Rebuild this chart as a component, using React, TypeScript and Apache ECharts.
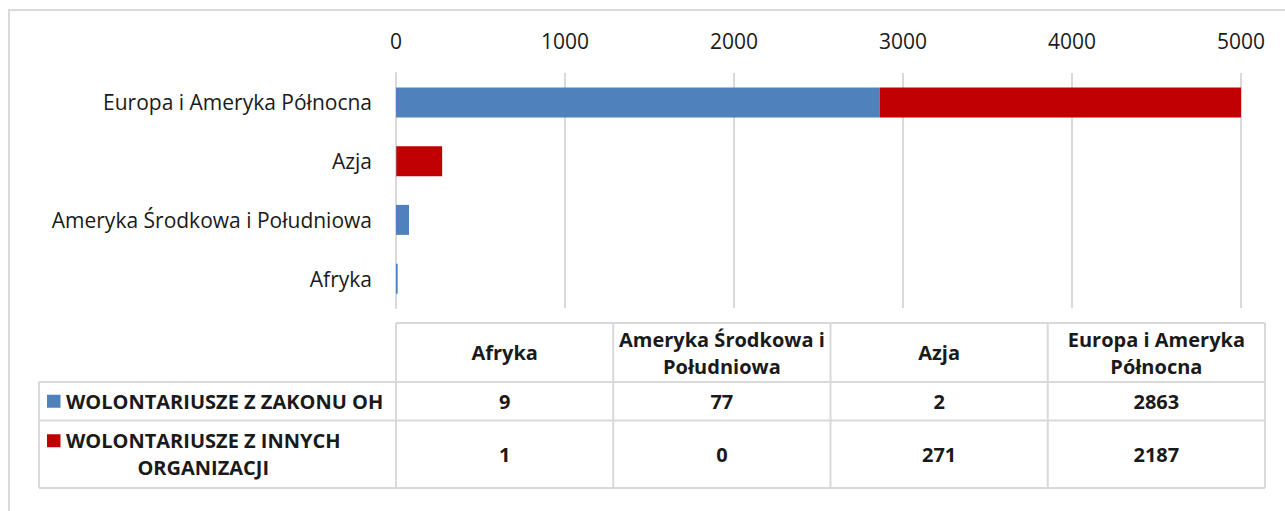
import React, { useEffect, useRef } from "react";
import * as echarts from "echarts";

const categories = [
  "Afryka",
  "Ameryka Środkowa i Południowa",
  "Azja",
  "Europa i Ameryka Północna",
];
const seriesNames = ["WOLONTARIUSZE Z ZAKONU OH", "WOLONTARIUSZE Z INNYCH ORGANIZACJI"];
const zakonValues = [9, 77, 2, 2863];
const innychValues = [1, 0, 271, 2187];
const seriesColors = ["#4F81BD", "#C00000"];
const axisMin = 0;
const axisMax = 5000;
const axisInterval = 1000;

const FONT = '"Open Sans", "Noto Sans", sans-serif';
const TEXT = "#1a1a1a";
const GRID_C = "#d9d9d9";

function wrap(s: string, maxChars: number): string[] {
  const words = s.split(" ");
  const lines: string[] = [];
  let cur = "";
  for (const w of words) {
    const next = cur ? cur + " " + w : w;
    if (next.length > maxChars && cur) {
      lines.push(cur);
      cur = w;
    } else cur = next;
  }
  if (cur) lines.push(cur);
  return lines;
}

function measure(text: string, font: string): number {
  const c = document.createElement("canvas").getContext("2d")!;
  c.font = font;
  return c.measureText(text).width;
}

export default function App() {
  const ref = useRef<HTMLDivElement>(null);
  useEffect(() => {
    if (!ref.current) return;
    const chart = echarts.init(ref.current, null, { renderer: "svg" });

    const tableLeft = 396;
    const tableRight = 1265;
    const legendLeft = 39;
    const colW = (tableRight - tableLeft) / categories.length;
    const yHeadTop = 323;
    const rowYs = [382, 420.5, 488];
    const boldFont = `bold 20px ${FONT}`;
    const lineStyle = { stroke: GRID_C, lineWidth: 2 };

    const elements: any[] = [];
    elements.push({
      type: "rect",
      shape: { x: 9, y: 10, width: 1300, height: 540 },
      style: { fill: "none", stroke: GRID_C, lineWidth: 2 },
      silent: true,
    });
    elements.push({ type: "line", shape: { x1: tableLeft, y1: yHeadTop, x2: tableRight, y2: yHeadTop }, style: lineStyle });
    rowYs.forEach((y) =>
      elements.push({ type: "line", shape: { x1: legendLeft, y1: y, x2: tableRight, y2: y }, style: lineStyle })
    );
    elements.push({ type: "line", shape: { x1: legendLeft, y1: rowYs[0], x2: legendLeft, y2: rowYs[2] }, style: lineStyle });
    for (let i = 0; i <= categories.length; i++) {
      const x = tableLeft + i * colW;
      elements.push({ type: "line", shape: { x1: x, y1: yHeadTop, x2: x, y2: rowYs[2] }, style: lineStyle });
    }
    categories.forEach((c, i) => {
      elements.push({
        type: "text",
        x: tableLeft + (i + 0.5) * colW,
        y: (yHeadTop + rowYs[0]) / 2,
        style: {
          text: wrap(c, 18).join("\n"),
          fontFamily: FONT,
          fontWeight: "bold",
          fontSize: 20,
          lineHeight: 27,
          fill: TEXT,
          align: "center",
          verticalAlign: "middle",
        },
      });
    });
    const rows = [zakonValues, innychValues];
    rows.forEach((vals, r) => {
      const yTop = rowYs[r];
      const yBot = rowYs[r + 1];
      const yc = (yTop + yBot) / 2;
      const lines = wrap(seriesNames[r], 25);
      const blockW = Math.max(...lines.map((l) => measure(l, boldFont)));
      const textX = 66;
      const firstLineY = yc - ((lines.length - 1) * 27) / 2;
      elements.push({
        type: "rect",
        shape: { x: 47, y: firstLineY - 6.5, width: 13.5, height: 13 },
        style: { fill: seriesColors[r] },
      });
      elements.push({
        type: "text",
        x: textX + blockW / 2,
        y: yc,
        style: {
          text: lines.join("\n"),
          fontFamily: FONT,
          fontWeight: "bold",
          fontSize: 20,
          lineHeight: 27,
          fill: TEXT,
          align: "center",
          verticalAlign: "middle",
        },
      });
      vals.forEach((v, i) => {
        elements.push({
          type: "text",
          x: tableLeft + (i + 0.5) * colW,
          y: yc,
          style: {
            text: String(v),
            fontFamily: FONT,
            fontWeight: "bold",
            fontSize: 20,
            fill: TEXT,
            align: "center",
            verticalAlign: "middle",
          },
        });
      });
    });

    chart.setOption({
      animation: false,
      grid: { left: 396, right: 44, top: 73, height: 235, containLabel: false },
      xAxis: {
        type: "value",
        position: "top",
        min: axisMin,
        max: axisMax,
        interval: axisInterval,
        axisLine: { show: false },
        axisTick: { show: false },
        axisLabel: {
          fontFamily: FONT,
          fontSize: 21,
          color: TEXT,
          margin: 22,
          formatter: (v: number) => String(v),
        },
        splitLine: { lineStyle: { color: GRID_C, width: 2 } },
      },
      yAxis: {
        type: "category",
        data: categories,
        axisLine: { lineStyle: { color: GRID_C, width: 2 } },
        axisTick: { show: false },
        axisLabel: { fontFamily: FONT, fontSize: 21, color: TEXT, margin: 24 },
      },
      series: [
        {
          type: "bar",
          name: seriesNames[0],
          stack: "total",
          data: zakonValues,
          barWidth: 30,
          itemStyle: { color: seriesColors[0] },
        },
        {
          type: "bar",
          name: seriesNames[1],
          stack: "total",
          data: innychValues,
          barWidth: 30,
          itemStyle: { color: seriesColors[1] },
        },
      ],
      graphic: { elements },
    });
    return () => chart.dispose();
  }, []);
  return (
    <div
      ref={ref}
      style={{ position: "fixed", left: 0, top: 0, width: 1285, height: 511, background: "#fff" }}
    />
  );
}
